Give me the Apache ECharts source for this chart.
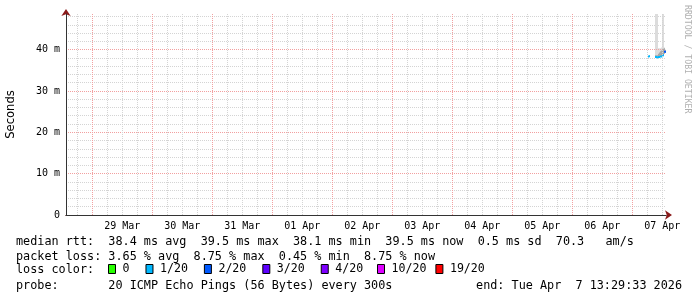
<!DOCTYPE html>
<html><head><meta charset="utf-8">
<script src="https://cdn.jsdelivr.net/npm/echarts@6/dist/echarts.min.js"></script>
<style>html,body{margin:0;padding:0;background:#fff}#c{width:697px;height:297px}</style>
</head><body><div id="c"></div>
<script>
// ---- data ----
const windowStart = '2026-03-28 13:29:33';
const windowEnd = '2026-04-07 13:29:33';
const labelAxisStart = '2026-03-28 01:29:33';
const labelAxisEnd = '2026-04-07 01:29:33';
const firstGridTime = '2026-03-28 18:00:00';
const gridStepHours = 6;
const sampleMinutes = 24;
const sampleStarts = [
  '2026-04-07 06:17:33', '2026-04-07 06:41:33',
  '2026-04-07 09:05:33', '2026-04-07 09:29:33', '2026-04-07 09:53:33',
  '2026-04-07 10:17:33', '2026-04-07 10:41:33', '2026-04-07 11:05:33',
  '2026-04-07 11:29:33', '2026-04-07 11:53:33', '2026-04-07 12:17:33',
  '2026-04-07 12:41:33', '2026-04-07 13:05:33'
];
const medianMs   = [38.3, 38.4, 38.2, 38.2, 38.1, 38.2, 38.2, 38.3, 38.3, 38.4, 38.6, 39.5, 39.5];
const lossPings  = [1, 1, 1, 1, 1, 1, 1, 1, 1, 1, 1, 2, 2];
const smokeLowMs  = [38.2, 38.3, 38.1, 38.1, 38.0, 38.1, 38.1, 38.2, 38.2, 38.3, 38.4, 39.0, 39.2];
const smokeHighMs = [38.5, 38.6, 60, 60, 60, 40.3, 40.3, 40.3, 40.5, 60, 60, 40.5, 40.0];
const coreLowMs   = [38.2, 38.3, 38.1, 38.1, 38.0, 38.2, 38.2, 38.3, 38.3, 38.4, 38.5, 39.0, 39.2];
const coreHighMs  = [38.4, 38.5, 38.6, 38.6, 38.6, 39.0, 39.3, 39.6, 39.8, 40.0, 40.2, 40.3, 39.9];
const lossLabels = ['0', '1/20', '2/20', '3/20', '4/20', '10/20', '19/20'];
const lossThresholds = [0, 1, 2, 3, 4, 10, 19];
const lossColors = ['#26ff00', '#00b8ff', '#0059ff', '#5e00ff', '#7e00ff', '#dd00ff', '#ff0000'];
const yMax = 48.6;
const statLines = [
  'median rtt:  38.4 ms avg  39.5 ms max  38.1 ms min  39.5 ms now  0.5 ms sd  70.3   am/s',
  'packet loss: 3.65 % avg  8.75 % max  0.45 % min  8.75 % now',
  'loss color:',
  'probe:       20 ICMP Echo Pings (56 Bytes) every 300s'
];
const endText = 'end: Tue Apr  7 13:29:33 2026';
const creditText = 'RRDTOOL / TOBI OETIKER';

// ---- build ----
const MONO = 'DejaVu Sans Mono';
const FONT = '11.8px "DejaVu Sans Mono"';
const stepMs = sampleMinutes * 60000;
const t0s = sampleStarts.map(s => echarts.time.parse(s).getTime());
const tStart = echarts.time.parse(windowStart).getTime();
const tEnd = echarts.time.parse(windowEnd).getTime();

function lossClass(n) {
  let c = 0;
  for (let i = 0; i < lossThresholds.length; i++) if (n >= lossThresholds[i]) c = i;
  return c;
}

// vertical grid: every 6 h, red at local midnight
const grayLines = [], redLines = [];
for (let t = echarts.time.parse(firstGridTime).getTime(); t < tEnd; t += gridStepHours * 3600000) {
  if (t <= tStart) continue;
  if (new Date(t).getHours() === 0) redLines.push({ xAxis: t }); else grayLines.push({ xAxis: t });
}

const smokeOuter = t0s.map((t, i) => [t, t + stepMs, smokeLowMs[i], smokeHighMs[i]]);
const smokeCore = t0s.map((t, i) => [t, t + stepMs, coreLowMs[i], coreHighMs[i]]);

function rangeRect(params, api) {
  const a = api.coord([api.value(0), api.value(3)]);
  const b = api.coord([api.value(1), api.value(2)]);
  return { type: 'rect', shape: { x: a[0], y: a[1], width: b[0] - a[0], height: b[1] - a[1] },
    style: { fill: api.visual('color') } };
}
function medianRect(params, api) {
  const a = api.coord([api.value(0), api.value(2)]);
  const b = api.coord([api.value(1), api.value(2)]);
  return { type: 'rect', shape: { x: a[0], y: a[1] - 1, width: b[0] - a[0], height: 2 },
    style: { fill: api.visual('color') } };
}

const dotted = c => ({ color: c, type: 'dotted', width: 1 });
const series = [
  { name: 'grid6h', type: 'line', data: [], silent: true, z: 0,
    markLine: { silent: true, symbol: 'none', label: { show: false }, animation: false,
      lineStyle: dotted('#d4d4d4'), data: grayLines } },
  { name: 'gridDay', type: 'line', data: [], silent: true, z: 0,
    markLine: { silent: true, symbol: 'none', label: { show: false }, animation: false,
      lineStyle: dotted('#f2a0a0'), data: redLines } },
  { name: 'smoke', type: 'custom', renderItem: rangeRect, clip: true, itemStyle: { color: '#dcdcdc' },
    encode: { x: [0, 1], y: [2, 3] }, data: smokeOuter, silent: true, z: 1 },
  { name: 'smokecore', type: 'custom', renderItem: rangeRect, clip: true, itemStyle: { color: '#a8a8a8' },
    encode: { x: [0, 1], y: [2, 3] }, data: smokeCore, silent: true, z: 2 }
];
lossLabels.forEach((lab, ci) => {
  const d = [];
  t0s.forEach((t, i) => { if (lossClass(lossPings[i]) === ci) d.push([t, t + stepMs, medianMs[i]]); });
  series.push({ name: lab, type: 'custom', renderItem: medianRect, clip: true,
    itemStyle: { color: lossColors[ci] }, encode: { x: [0, 1], y: 2 }, data: d, z: 3 });
});

const legendBase = {
  top: 263, padding: 0, itemWidth: 7, itemHeight: 9, icon: 'rect', selectedMode: false,
  textStyle: { fontFamily: MONO, fontSize: 11.6, color: '#000', padding: [0, 0, 0, 2] }
};
const legendItem = n => ({ name: n, itemStyle: { borderColor: '#000', borderWidth: 1 } });

const option = {
  backgroundColor: '#fff',
  animation: false,
  grid: { left: 66, top: 14, width: 600, height: 201, containLabel: false, outerBoundsMode: 'none' },
  xAxis: [
    { type: 'time', position: 'bottom', offset: 0, min: tStart, max: tEnd, z: 2,
      splitLine: { show: false }, axisTick: { show: false }, axisLabel: { show: false },
      axisLine: { show: true, lineStyle: { color: '#333', width: 1 } } },
    { type: 'time', position: 'bottom', offset: 0, min: labelAxisStart, max: labelAxisEnd,
      minInterval: 86400000, maxInterval: 86400000, z: 0,
      splitLine: { show: false }, axisTick: { show: false },
      axisLine: { show: true, symbol: ['none', 'arrow'], symbolSize: [7, 7], symbolOffset: [0, 6],
        lineStyle: { color: '#8b1a1a', width: 1 } },
      axisLabel: { show: true, interval: 0, showMinLabel: false, showMaxLabel: false, hideOverlap: false,
        formatter: '{dd} {MMM}', fontFamily: MONO, fontSize: 10, color: '#000', margin: 6 } }
  ],
  yAxis: [
    { type: 'value', position: 'left', offset: 0, min: 0, max: yMax, interval: 10, z: 2,
      name: 'Seconds', nameLocation: 'middle', nameGap: 49,
      nameTextStyle: { fontFamily: 'DejaVu Sans', fontSize: 11.6, color: '#000' },
      splitLine: { show: true, lineStyle: dotted('#f2a0a0'), showMinLine: false, showMaxLine: false },
      axisTick: { show: false },
      axisLine: { show: true, lineStyle: { color: '#333', width: 1 } },
      axisLabel: { showMaxLabel: false, fontFamily: MONO, fontSize: 10, color: '#000', margin: 6,
        formatter: v => v === 0 ? '0' : v + ' m' } },
    { type: 'value', position: 'left', offset: 0, min: 0, max: yMax, interval: 2, z: 0,
      splitLine: { show: true, lineStyle: dotted('#d4d4d4'), showMinLine: false, showMaxLine: false },
      axisTick: { show: false }, axisLabel: { show: false },
      axisLine: { show: true, symbol: ['none', 'arrow'], symbolSize: [7, 7], symbolOffset: [0, 5],
        lineStyle: { color: '#8b1a1a', width: 1 } } }
  ],
  legend: [
    Object.assign({}, legendBase, { left: 108, itemGap: 16, data: lossLabels.slice(0, 5).map(legendItem) }),
    Object.assign({}, legendBase, { left: 377, itemGap: 9, data: lossLabels.slice(5).map(legendItem) })
  ],
  graphic: [
    { type: 'text', left: 16, top: 236, style: { text: statLines[0], font: FONT, fill: '#000' } },
    { type: 'text', left: 16, top: 251, style: { text: statLines[1], font: FONT, fill: '#000' } },
    { type: 'text', left: 16, top: 264, style: { text: statLines[2], font: FONT, fill: '#000' } },
    { type: 'text', left: 16, top: 280, style: { text: statLines[3], font: FONT, fill: '#000' } },
    { type: 'text', right: 15, top: 280, style: { text: endText, font: FONT, fill: '#000' } },
    { type: 'text', x: 691, y: 5, rotation: -Math.PI / 2,
      style: { text: creditText, font: '8.2px "DejaVu Sans Mono"', fill: '#b0b0b0' } }
  ],
  series: series
};
const chart = echarts.init(document.getElementById('c'), null, { renderer: 'canvas' });
chart.setOption(option);
</script></body></html>
